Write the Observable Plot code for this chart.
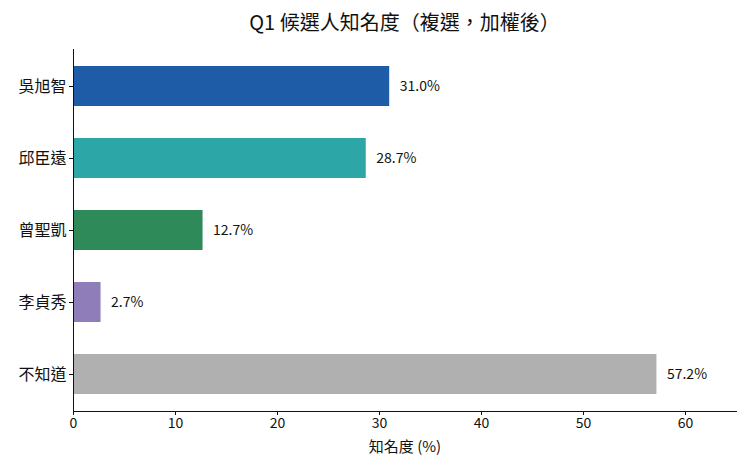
<!DOCTYPE html>
<html><head><meta charset="utf-8">
<script src="https://cdn.jsdelivr.net/npm/d3@7"></script>
<script src="https://cdn.jsdelivr.net/npm/@observablehq/plot@0.6"></script>
<style>
body{margin:0;background:#fff;font-family:"Noto Sans CJK TC","Noto Sans",sans-serif;}
#title{height:40px;width:663px;padding-left:73px;text-align:center;font-size:20px;line-height:44px;color:#111;}
</style></head>
<body>
<div id="title">Q1 候選人知名度（複選，加權後）</div>
<div id="chart"></div>
<script>
const names = ["吳旭智","邱臣遠","曾聖凱","李貞秀","不知道"];
const values = [31.0, 28.7, 12.7, 2.7, 57.2];
const colors = ["#1f5ca8","#2ca6a6","#2e8a58","#8e7db9","#b0b0b0"];
const xTicks = [0,10,20,30,40,50,60];
const data = names.map((n,i)=>({name:n, value:values[i], color:colors[i]}));
const chart = Plot.plot({
  width:750, height:429,
  marginTop:9, marginBottom:58, marginLeft:73, marginRight:14,
  style:{fontFamily:'"Noto Sans CJK TC","Noto Sans",sans-serif', fontSize:"14px", color:"#111", background:"#fff"},
  x:{domain:[0,65]},
  y:{domain:names, paddingInner:0.45, paddingOuter:0.225},
  marks:[
    Plot.barX(data,{y:"name", x:"value", fill:"color"}),
    Plot.text(data,{y:"name", x:"value", text:d=>d.value.toFixed(1)+"%", textAnchor:"start", dx:10, fontSize:14, fill:"#111"}),
    Plot.axisX({ticks:xTicks, tickSize:4, tickPadding:3, fontSize:14, label:null}),
    Plot.text(["知名度 (%)"],{frameAnchor:"bottom", dy:40, fontSize:15, fill:"#111"}),
    Plot.axisY({tickSize:4, tickPadding:3, fontSize:16, label:null}),
    Plot.ruleX([0],{stroke:"#111"}),
    Plot.frame({anchor:"bottom", stroke:"#111"})
  ]
});
document.getElementById("chart").appendChild(chart);
</script>
</body></html>
